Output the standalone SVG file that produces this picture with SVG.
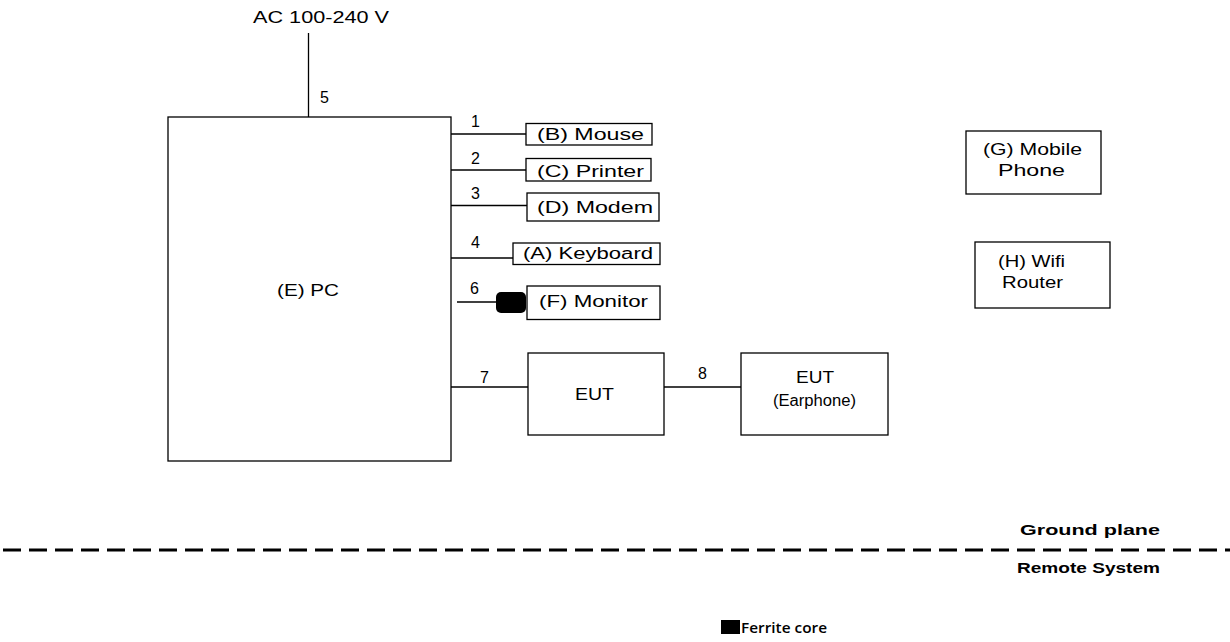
<svg xmlns="http://www.w3.org/2000/svg" width="1230" height="642" viewBox="0 0 1230 642">
<style>
.box{fill:#fff;stroke:#000;stroke-width:1.3}
.ln{stroke:#000;stroke-width:1.3;fill:none}
.t{font-family:"Liberation Sans",Arial,sans-serif;font-size:16px;fill:#000}
.b{font-family:"Liberation Sans",Arial,sans-serif;font-size:14px;font-weight:bold;fill:#000}
.f{font-family:"Open Sans","Liberation Sans",sans-serif;font-size:13.5px;font-weight:600;fill:#000}
</style>
<rect width="1230" height="642" fill="#fff"/>
<g id="connectors">
<line class="ln" x1="308.5" y1="33" x2="308.5" y2="117"/>
<line class="ln" x1="451" y1="134" x2="526" y2="134"/>
<line class="ln" x1="451" y1="170" x2="526" y2="170"/>
<line class="ln" x1="451" y1="205.5" x2="527" y2="205.5"/>
<line class="ln" x1="451" y1="258" x2="513" y2="258"/>
<line class="ln" x1="457" y1="302" x2="497" y2="302"/>
<line class="ln" x1="451" y1="387" x2="528" y2="387"/>
<line class="ln" x1="664" y1="387" x2="741" y2="387"/>
<text class="t" x="320" y="103">5</text>
<text class="t" x="471" y="127">1</text>
<text class="t" x="471" y="164">2</text>
<text class="t" x="471" y="199">3</text>
<text class="t" x="471" y="248">4</text>
<text class="t" x="470" y="294">6</text>
<text class="t" x="480" y="383">7</text>
<text class="t" x="698" y="379">8</text>
</g>
<g id="ac">
<text class="t" x="253" y="23" textLength="136" lengthAdjust="spacingAndGlyphs">AC 100-240 V</text>
</g>
<g id="pc">
<rect class="box" x="168" y="117" width="283" height="344"/>
<text class="t" x="277" y="296" textLength="62" lengthAdjust="spacingAndGlyphs">(E) PC</text>
</g>
<g id="mouse">
<rect class="box" x="526" y="123.5" width="126" height="21.5"/>
<text class="t" x="537" y="140" textLength="107" lengthAdjust="spacingAndGlyphs">(B) Mouse</text>
</g>
<g id="printer">
<rect class="box" x="526" y="158.5" width="125" height="22.5"/>
<text class="t" x="537" y="177" textLength="107" lengthAdjust="spacingAndGlyphs">(C) Printer</text>
</g>
<g id="modem">
<rect class="box" x="527" y="193" width="132" height="28"/>
<text class="t" x="537" y="213" textLength="116" lengthAdjust="spacingAndGlyphs">(D) Modem</text>
</g>
<g id="keyboard">
<rect class="box" x="513" y="243" width="147" height="21.5"/>
<text class="t" x="523" y="259" textLength="130" lengthAdjust="spacingAndGlyphs">(A) Keyboard</text>
</g>
<g id="ferrite">
<rect x="496" y="292" width="30" height="21" rx="5" fill="#000"/>
</g>
<g id="monitor">
<rect class="box" x="527" y="286" width="133" height="33.5"/>
<text class="t" x="539" y="307" textLength="109" lengthAdjust="spacingAndGlyphs">(F) Monitor</text>
</g>
<g id="eut">
<rect class="box" x="528" y="353" width="136" height="82"/>
<text class="t" x="575" y="400" textLength="39" lengthAdjust="spacingAndGlyphs">EUT</text>
</g>
<g id="earphone">
<rect class="box" x="741" y="353" width="147" height="82"/>
<text class="t" x="796" y="383" textLength="38" lengthAdjust="spacingAndGlyphs">EUT</text>
<text class="t" x="773" y="406" textLength="83" lengthAdjust="spacingAndGlyphs">(Earphone)</text>
</g>
<g id="mobile">
<rect class="box" x="966" y="131" width="135" height="63"/>
<text class="t" x="983" y="155" textLength="99" lengthAdjust="spacingAndGlyphs">(G) Mobile</text>
<text class="t" x="998" y="176" textLength="67" lengthAdjust="spacingAndGlyphs">Phone</text>
</g>
<g id="wifi">
<rect class="box" x="975" y="242" width="135" height="66"/>
<text class="t" x="998" y="267" textLength="67" lengthAdjust="spacingAndGlyphs">(H) Wifi</text>
<text class="t" x="1002" y="288" textLength="61" lengthAdjust="spacingAndGlyphs">Router</text>
</g>
<g id="ground">
<line x1="3" y1="550" x2="1230" y2="550" stroke="#000" stroke-width="3" stroke-dasharray="18 8"/>
<text class="b" x="1020" y="535" textLength="140" lengthAdjust="spacingAndGlyphs">Ground plane</text>
<text class="b" x="1017" y="573" textLength="143" lengthAdjust="spacingAndGlyphs">Remote System</text>
</g>
<g id="legend">
<rect x="721" y="620" width="19" height="14" fill="#000"/>
<text class="f" x="741" y="633" textLength="86" lengthAdjust="spacingAndGlyphs">Ferrite core</text>
</g>
</svg>
